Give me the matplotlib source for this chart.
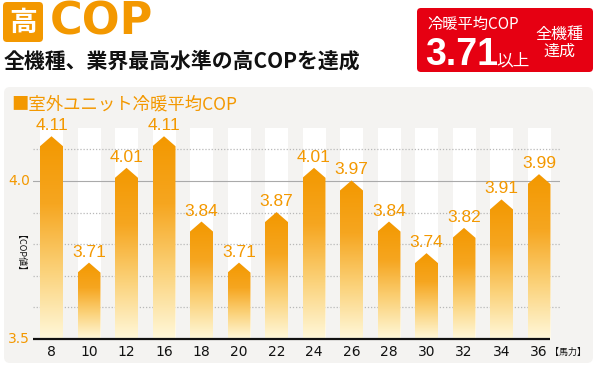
import numpy as np
import matplotlib
matplotlib.use("Agg")
import matplotlib.pyplot as plt
from matplotlib.patches import FancyBboxPatch, Polygon, Rectangle
from matplotlib.colors import LinearSegmentedColormap

# data
horsepower = ["8", "10", "12", "16", "18", "20", "22", "24", "26", "28", "30", "32", "34", "36"]
cop = [4.11, 3.71, 4.01, 4.11, 3.84, 3.71, 3.87, 4.01, 3.97, 3.84, 3.74, 3.82, 3.91, 3.99]
yticks = [3.5, 4.0]
grid_dotted = [3.6, 3.7, 3.8, 3.9, 4.1]

JP = ["Noto Sans CJK JP", "DejaVu Sans"]
NUM = ["Liberation Sans Narrow", "Liberation Sans", "DejaVu Sans"]
ORANGE = "#f39800"
RED = "#e60012"

W, H = 597, 368
fig = plt.figure(figsize=(W / 100, H / 100), dpi=100)

# background axes in pixel coordinates for the decorations
bg = fig.add_axes([0, 0, 1, 1])
bg.set_xlim(0, W)
bg.set_ylim(H, 0)
bg.axis("off")

# chart panel
bg.add_patch(FancyBboxPatch((4, 87), 589, 276, boxstyle="round,pad=0,rounding_size=6",
                            fc="#f4f3f1", ec="none"))

# header: 高 box + COP
bg.add_patch(FancyBboxPatch((3, 2), 40, 40, boxstyle="round,pad=0,rounding_size=4",
                            fc=ORANGE, ec="none"))
bg.text(23, 23, "高", family=JP, fontsize=20, color="white", ha="center", va="center",
        fontweight="bold")
bg.text(50, 22, "COP", family=["DejaVu Sans"], fontsize=32, color=ORANGE, ha="left",
        va="center", fontweight="bold")
bg.text(4, 61, "全機種、業界最高水準の高COPを達成", family=JP, fontsize=15,
        fontweight="bold", color="#111111", ha="left", va="center")

# red badge
bg.add_patch(FancyBboxPatch((417, 8), 176, 64, boxstyle="round,pad=0,rounding_size=4",
                            fc=RED, ec="none"))
bg.text(427, 24, "冷暖平均COP", family=JP, fontsize=11, color="white", ha="left", va="center")
bg.text(425, 65, "3.71", family=NUM, fontsize=27, color="white", ha="left", va="baseline",
        fontweight="bold")
bg.text(496, 65, "以上", family=JP, fontsize=12, color="white", ha="left", va="baseline")
bg.text(559, 34, "全機種", family=JP, fontsize=11.5, color="white", ha="center", va="center")
bg.text(559, 51, "達成", family=JP, fontsize=11.5, color="white", ha="center", va="center")

# chart subtitle
bg.text(11, 104, "■室外ユニット冷暖平均COP", family=JP, fontsize=12.5, color=ORANGE,
        ha="left", va="center")

# chart axes
x0_px, x1_px = 33, 560
y_bot_px, y_top_px = 339, 110
c0, step = 51.5, 37.5
ax = fig.add_axes([x0_px / W, 1 - y_bot_px / H, (x1_px - x0_px) / W, (y_bot_px - y_top_px) / H])
ax.patch.set_alpha(0)
ax.set_xlim((x0_px - c0) / step, (x1_px - c0) / step)
scale = 316.0
ax.set_ylim(3.5, 3.5 + (y_bot_px - y_top_px) / scale)
for s in ax.spines.values():
    s.set_visible(False)
ax.set_xticks([])
ax.set_yticks([])

x = np.arange(len(cop))
bw = 23 / step
col_top = 3.5 + (y_bot_px - 128) / scale
tip = 10 / scale

# white columns
for xi in x:
    ax.add_patch(Rectangle((xi - bw / 2, 3.5), bw, col_top - 3.5, fc="white", ec="none", zorder=1))

# grid lines
for g in grid_dotted:
    ax.axhline(g, color="#b8b8b8", lw=0.9, ls=(0, (1, 1.5)), zorder=2)
ax.axhline(4.0, color="#aaaaaa", lw=0.8, zorder=2)

cmap = LinearSegmentedColormap.from_list("bar", ["#fff8da", "#fbd27a", "#f6a620", ORANGE])
grad = np.linspace(0, 1, 256).reshape(-1, 1)
for xi, v in zip(x, cop):
    poly = Polygon([(xi - bw / 2, 3.5), (xi - bw / 2, v), (xi, v + tip),
                    (xi + bw / 2, v), (xi + bw / 2, 3.5)], closed=True, fc="none", ec="none")
    ax.add_patch(poly)
    im = ax.imshow(grad, cmap=cmap, origin="lower", aspect="auto", zorder=3,
                   extent=[xi - bw / 2, xi + bw / 2, 3.5, v + tip])
    im.set_clip_path(poly)
    ax.text(xi, v + tip + 3 / scale, f"{v:.2f}", family=NUM, fontsize=12.5, color=ORANGE,
            ha="center", va="bottom", zorder=4)

ax.set_xlim((x0_px - c0) / step, (x1_px - c0) / step)
ax.set_ylim(3.5, 3.5 + (y_bot_px - y_top_px) / scale)

# baseline
ax.hlines(3.5, (x0_px - c0) / step, (550 - c0) / step, color="#111111", lw=1.6, zorder=5,
          clip_on=False)

# tick labels
for xi, lab in zip(x, horsepower):
    ax.text(xi, 3.5 - 13 / scale, lab, family=["DejaVu Sans"], fontsize=10, color="#111111",
            ha="center", va="center", clip_on=False)
ax.text(13 + 0.3, 3.5 - 13 / scale, "【馬力】", family=JP, fontsize=6.5, color="#111111",
        ha="left", va="center", clip_on=False)
for t in yticks:
    bg.text(19, y_bot_px - (t - 3.5) * scale, f"{t:.1f}", family=["DejaVu Sans"], fontsize=10,
            color=ORANGE, ha="center", va="center")
bg.text(16, 258, "【COP値】", family=JP, fontsize=6.5, color="#111111", rotation=270,
        ha="center", va="center")

fig.savefig("out.png", dpi=100)
